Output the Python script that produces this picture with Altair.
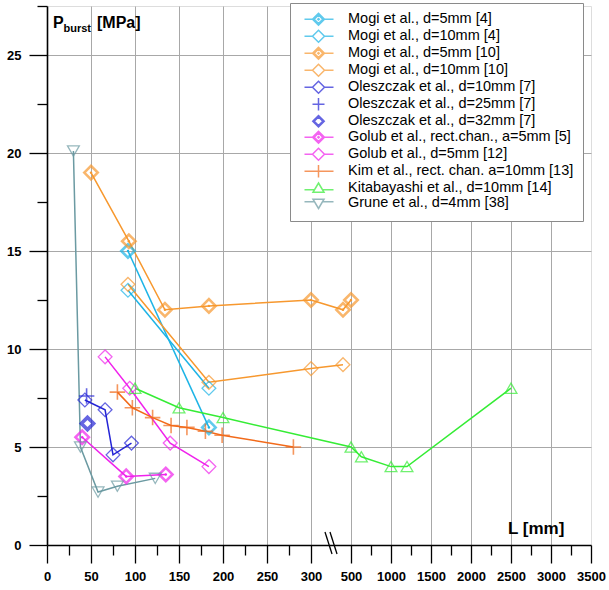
import altair as alt
import pandas as pd

# ---------------- data ----------------
series = [
    "Mogi et al., d=5mm [4]",
    "Mogi et al., d=10mm [4]",
    "Mogi et al., d=5mm [10]",
    "Mogi et al., d=10mm [10]",
    "Oleszczak et al., d=10mm [7]",
    "Oleszczak et al., d=25mm [7]",
    "Oleszczak et al., d=32mm [7]",
    "Golub et al., rect.chan., a=5mm [5]",
    "Golub et al., d=5mm [12]",
    "Kim et al., rect. chan. a=10mm [13]",
    "Kitabayashi et al., d=10mm [14]",
    "Grune et al., d=4mm [38]",
]
colors = ["#1DB4E6", "#1DB4E6", "#F7982E", "#F7982E", "#2424D6", "#2424D6",
          "#2424D6", "#F022EC", "#F022EC", "#F26A1A", "#35EC35", "#6B9AA2"]
markers = ["dd", "do", "dd", "do", "do", "plus", "db", "dd", "do", "plusline", "tri", "trid"]

L_data = [
    [92, 184],
    [92, 184],
    [50, 93, 134, 184, 300, 400, 500],
    [92, 184, 300, 400],
    [43, 66, 75, 96],
    [45],
    [46],
    [40, 90, 135],
    [66, 94, 140, 184],
    [80, 97, 120, 141, 159, 180, 199, 280],
    [100, 150, 200, 500, 630, 1000, 1200, 2500],
    [30, 38, 58, 80, 123],
]
P_data = [
    [15.0, 6.0],
    [13.0, 8.0],
    [19.0, 15.5, 12.0, 12.2, 12.5, 12.0, 12.5],
    [13.3, 8.3, 9.0, 9.2],
    [7.4, 6.9, 4.6, 5.2],
    [7.6],
    [6.2],
    [5.5, 3.5, 3.6],
    [9.6, 8.0, 5.2, 4.0],
    [7.8, 7.0, 6.5, 6.1, 6.0, 5.8, 5.6, 5.0],
    [8.0, 7.0, 6.5, 5.0, 4.5, 4.0, 4.0, 8.0],
    [20.1, 5.0, 2.7, 3.0, 3.4],
]

x_major_1 = [0, 50, 100, 150, 200, 250, 300]
x_major_2 = [500, 1000, 1500, 2000, 2500, 3000, 3500]
x_minor_1 = [25, 75, 125, 175, 225, 275]
x_minor_2 = [750, 1250, 1750, 2250, 2750, 3250]
y_ticks = [0, 2.5, 5, 7.5, 10, 12.5, 15, 17.5, 20, 22.5, 25, 27.5]

# broken axis: linear up to BREAK, compressed (factor K) beyond it
BREAK = 300.0
K = 1.0 / 11.0


def xt(v):
    return v if v <= BREAK else BREAK + v * K


rows = []
for ci, (s, mk, Ls, Ps) in enumerate(zip(series, markers, L_data, P_data)):
    for i, (l, p) in enumerate(zip(Ls, Ps)):
        rows.append({"series": s, "ci": ci, "mk": mk, "L": l, "P": p, "idx": i})
df = pd.DataFrame(rows)

FONT = "Liberation Sans"
XMAX = xt(3500)

x_values = [xt(v) for v in x_major_1 + x_minor_1 + x_major_2 + x_minor_2]
MAJ_X = (f"(datum.value <= {BREAK + 0.5} ? abs(datum.value/50 - round(datum.value/50)) < 1e-6 "
         f": abs((datum.value-{BREAK})*11/500 - round((datum.value-{BREAK})*11/500)) < 1e-6)")
LAB_X = (f"{MAJ_X} ? (datum.value <= {BREAK + 0.5} ? format(datum.value, 'd') "
         f": format((datum.value-{BREAK})*11, 'd')) : ''")

x_axis = alt.Axis(
    values=x_values, labelExpr=LAB_X, title=None,
    labelFont=FONT, labelFontSize=13, labelFontWeight="bold", labelColor="black",
    labelPadding=7, labelFlush=False, labelOverlap=False,
    tickColor="black", tickWidth=1.3,
    tickSize={"condition": {"test": MAJ_X, "value": 18}, "value": 10},
    domainColor="black", domainWidth=1.6,
    gridColor="#a8a8a8", gridWidth=1,
    gridOpacity={"condition": {"test": f"{MAJ_X} && datum.value > 1 && datum.value < {XMAX - 1}",
                               "value": 1}, "value": 0},
)
MAJ_Y = "abs(datum.value/5 - round(datum.value/5)) < 1e-6"
y_axis = alt.Axis(
    values=y_ticks, labelExpr=f"{MAJ_Y} ? format(datum.value, 'd') : ''", title=None,
    labelFont=FONT, labelFontSize=13, labelFontWeight="bold", labelColor="black",
    labelPadding=8, labelFlush=False, labelOverlap=False,
    tickColor="black", tickWidth=1.3,
    tickSize={"condition": {"test": MAJ_Y, "value": 18}, "value": 10},
    domainColor="black", domainWidth=1.6,
    gridColor="#a8a8a8", gridWidth=1,
    gridOpacity={"condition": {"test": f"{MAJ_Y} && datum.value > 0", "value": 1}, "value": 0},
)

x_enc = alt.X("xt:Q", scale=alt.Scale(domain=[0, XMAX], nice=False, zero=False), axis=x_axis)
y_enc = alt.Y("P:Q", scale=alt.Scale(domain=[0, 27.5], nice=False, zero=False), axis=y_axis)
# colour of the drawn marks keyed by series index (kept separate from the legend scales)
c_enc = alt.Color("ci:N", scale=alt.Scale(domain=list(range(len(series))), range=colors), legend=None)

base = alt.Chart(df).transform_calculate(
    xt=f"datum.L <= {BREAK} ? datum.L : {BREAK} + datum.L * {K}"
)


def only(kinds):
    return base.transform_filter(alt.FieldOneOfPredicate(field="mk", oneOf=kinds))


lines = base.mark_line(strokeWidth=1.5).encode(
    x=x_enc, y=y_enc, color=c_enc, order=alt.Order("idx:Q"))

d_open = only(["do"]).mark_point(shape="diamond", size=190, strokeWidth=1.3, filled=False).encode(
    x=x_enc, y=y_enc, color=c_enc)
d_thick = only(["dd"]).mark_point(shape="diamond", size=180, strokeWidth=2.6, filled=False).encode(
    x=x_enc, y=y_enc, color=c_enc)
d_dot = only(["dd"]).mark_point(shape="circle", size=6, filled=True, opacity=1).encode(
    x=x_enc, y=y_enc, color=c_enc)
d_bold = only(["db"]).mark_point(shape="diamond", size=150, strokeWidth=3.6, filled=False).encode(
    x=x_enc, y=y_enc, color=c_enc)
plus = only(["plus", "plusline"]).mark_point(shape="M-1,0H1M0,-1V1", size=240, strokeWidth=1.6,
                                             filled=False).encode(x=x_enc, y=y_enc, color=c_enc)
tri = only(["tri"]).mark_point(shape="triangle-up", size=140, strokeWidth=1.3, filled=False).encode(
    x=x_enc, y=y_enc, color=c_enc)
trid = only(["trid"]).mark_point(shape="triangle-down", size=140, strokeWidth=1.3, filled=False).encode(
    x=x_enc, y=y_enc, color=c_enc)

# legend symbols (unit = sqrt(size)/2 = 5 px; marker centred at x=2.45, line from -0.35 to 5.45)
DO = "M-0.35,0H1.25M3.65,0H5.45M2.45,-1.2L3.65,0L2.45,1.2L1.25,0Z"
DD = DO + "M2.45,-0.85L3.3,0L2.45,0.85L1.6,0ZM2.3,0L2.45,-0.15L2.6,0L2.45,0.15Z"
DB = "M2.45,-1.15L3.6,0L2.45,1.15L1.3,0ZM2.45,-0.85L3.3,0L2.45,0.85L1.6,0ZM2.45,-1L3.45,0L2.45,1L1.45,0Z"
PL = "M1.25,0H3.65M2.45,-1.25V1.25"
PLL = "M-0.35,0H5.45M2.45,-1.25V1.25"
TRI = "M-0.35,0.3H1.65M3.25,0.3H5.45M2.45,-1.05L3.55,0.8L1.35,0.8Z"
TRID = "M-0.35,-0.3H1.65M3.25,-0.3H5.45M2.45,1.05L3.55,-0.8L1.35,-0.8Z"
leg_paths_by_kind = {"do": DO, "dd": DD, "db": DB, "plus": PL, "plusline": PLL, "tri": TRI, "trid": TRID}
leg_paths = [leg_paths_by_kind[m] for m in markers]

legend_def = alt.Legend(
    title=None, orient="none", legendX=243, legendY=-3,
    fillColor="white", strokeColor="#8a8a8a", padding=9,
    symbolSize=100, symbolStrokeWidth=1.5, symbolFillColor="transparent",
    labelFont=FONT, labelFontSize=14.5, labelColor="black", labelOffset=34.5,
    labelLimit=400, rowPadding=-7,
)
# invisible marks (size 0) that only carry the legend
legend_layer = base.mark_point(filled=False, size=0, strokeWidth=1.5).encode(
    x=x_enc, y=y_enc,
    stroke=alt.Stroke("series:N", scale=alt.Scale(domain=series, range=colors), legend=legend_def),
    shape=alt.Shape("series:N", scale=alt.Scale(domain=series, range=leg_paths), legend=legend_def),
)

one = alt.Chart(pd.DataFrame({"a": [0]}))
t_p = one.mark_text(text="P", font=FONT, fontSize=16, fontWeight="bold", align="left",
                    baseline="alphabetic", color="black").encode(x=alt.value(6), y=alt.value(22))
t_b = one.mark_text(text="burst", font=FONT, fontSize=11, fontWeight="bold", align="left",
                    baseline="alphabetic", color="black").encode(x=alt.value(16.5), y=alt.value(26))
t_m = one.mark_text(text="[MPa]", font=FONT, fontSize=16, fontWeight="bold", align="left",
                    baseline="alphabetic", color="black").encode(x=alt.value(50), y=alt.value(22))
t_l = one.mark_text(text="L [mm]", font=FONT, fontSize=17, fontWeight="bold", align="left",
                    baseline="alphabetic", color="black").encode(x=alt.value(461), y=alt.value(528))

brk1 = one.mark_rule(color="black", strokeWidth=1.3).encode(
    x=alt.value(278), x2=alt.value(285), y=alt.value(526), y2=alt.value(548))
brk2 = one.mark_rule(color="black", strokeWidth=1.3).encode(
    x=alt.value(283), x2=alt.value(290), y=alt.value(526), y2=alt.value(548))

chart = alt.layer(
    lines, d_open, d_thick, d_dot, d_bold, plus, tri, trid, legend_layer,
    t_p, t_b, t_m, t_l, brk1, brk2,
).properties(
    width=544, height=539, autosize="none",
    padding={"left": 47, "top": 6, "right": 18, "bottom": 45},
).configure_view(stroke=None).configure(background="white")

chart.save("out.html", embed_options={"renderer": "svg", "actions": False})
